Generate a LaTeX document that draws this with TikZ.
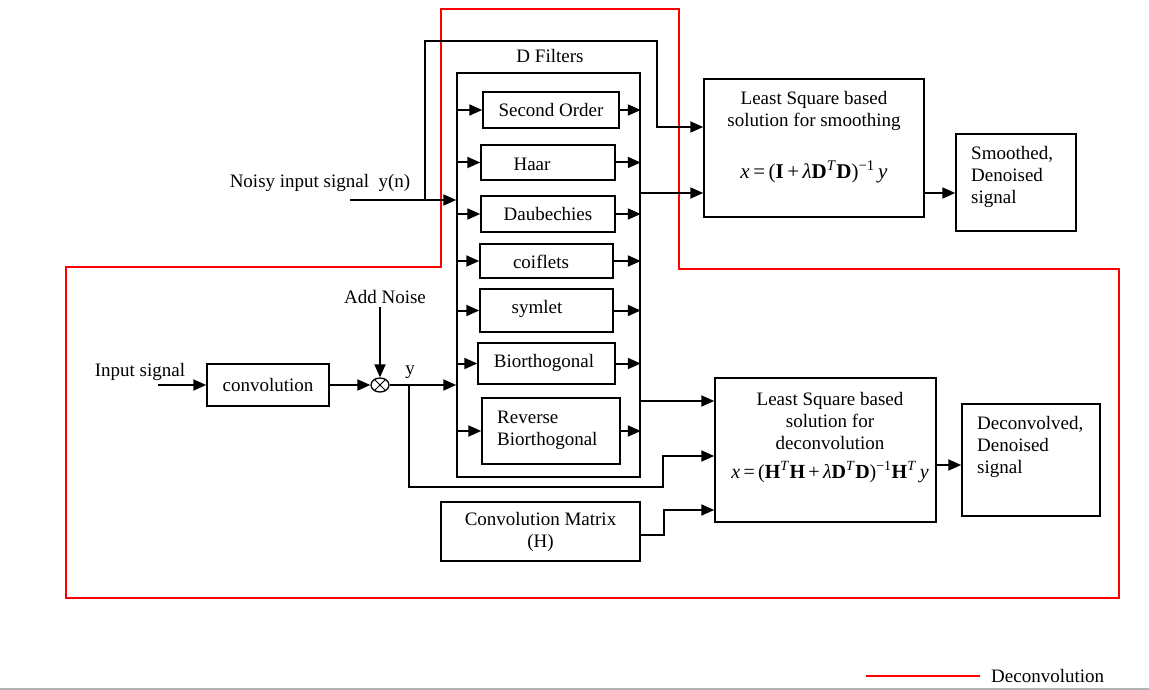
\documentclass[tikz,border=0pt]{standalone}
\usepackage{fontspec}
\setmainfont{Liberation Serif}
\usetikzlibrary{arrows.meta,shapes.geometric,calc}
\begin{document}
\begin{tikzpicture}[x=1pt,y=-1pt,
  every node/.style={font=\fontsize{19}{22}\selectfont, inner sep=0pt},
  box/.style={draw, line width=1.5pt, rectangle},
  arr/.style={line width=2pt, -{Triangle[length=13pt,width=11pt]}},
  redline/.style={draw=red, line width=1.3pt},
  txt/.style={align=center},
  eq/.style={font=\fontsize{20}{24}\selectfont}]
\useasboundingbox (0,0) rectangle (1149,690);

% red deconvolution path
\draw[redline] (441,9) -- (679,9) -- (679,269) -- (1119,269) -- (1119,598)
  -- (66,598) -- (66,267) -- (441,267) -- cycle;

% D filters container
\node[box, minimum width=183pt, minimum height=404pt] (dfil) at (548.5,275) {};
\node (dtitle) at (550,56) {D Filters};

% filter boxes
\node[box, minimum width=136pt, minimum height=36pt] (so) at (551,110) {Second Order};
\node[box, minimum width=134pt, minimum height=35pt] (haar) at (548,162.5) {};
\node (haart) at (532,164) {Haar};
\node[box, minimum width=134pt, minimum height=36pt] (daub) at (548,214) {Daubechies};
\node[box, minimum width=133pt, minimum height=34pt] (coif) at (546.5,261) {};
\node (coift) at (541,262) {coiflets};
\node[box, minimum width=133pt, minimum height=43pt] (sym) at (546.5,310.5) {};
\node (symt) at (537,309) {symlet};
\node[box, minimum width=137pt, minimum height=41pt] (bior) at (546.5,363.5) {};
\node (biort) at (544,363) {Biorthogonal};
\node[box, minimum width=138pt, minimum height=66pt] (rbior) at (551,431) {};
\node[align=left, anchor=west] (rbiort) at (497,430) {Reverse\\Biorthogonal};

% filter inputs and outputs
\foreach \f in {so,haar,daub,coif,sym,bior,rbior}{
  \draw[arr] (\f.west -| dfil.west) -- (\f.west);
  \draw[arr] (\f.east) -- (\f.east -| dfil.east);
}

% smoothing block
\node[box, minimum width=220pt, minimum height=138pt] (smooth) at (814,148) {};
\node[txt] (smootht) at (814,110.5) {Least Square based\\solution for smoothing};
\node[eq, font=\fontsize{21}{24}\selectfont] (smoothe) at (814,172) {\textit{x}\,=\,(\textbf{I}\,+\,\textit{λ}\textbf{D}\textsuperscript{\textit{T}}\textbf{D})\textsuperscript{−1}\,\textit{y}};
\node[box, minimum width=120pt, minimum height=97pt] (sout) at (1016,182.5) {};
\node[align=left, anchor=west] (soutt) at (971,177) {Smoothed,\\Denoised\\signal};

% deconvolution block
\node[box, minimum width=221pt, minimum height=144pt] (deconv) at (825.5,450) {};
\node[txt] (deconvt) at (830,421) {Least Square based\\solution for\\deconvolution};
\node[eq] (deconve) at (830,472) {\textit{x}\,=\,(\textbf{H}\textsuperscript{\textit{T}}\textbf{H}\,+\,\textit{λ}\textbf{D}\textsuperscript{\textit{T}}\textbf{D})\textsuperscript{−1}\textbf{H}\textsuperscript{\textit{T}}\,\textit{y}};
\node[box, minimum width=138pt, minimum height=112pt] (dout) at (1031,460) {};
\node[align=left, anchor=west] (doutt) at (977,447) {Deconvolved,\\Denoised\\signal};

% convolution matrix
\node[box, minimum width=199pt, minimum height=59pt, align=center] (cmat) at (540.5,531.5) {Convolution Matrix\\(H)};

% input chain
\node (inlab) at (140,372) {Input signal};
\coordinate (inp) at (158,385);
\node[box, minimum width=122pt, minimum height=42pt] (conv) at (268,385) {convolution};
\node[draw, ellipse, line width=1.3pt, minimum width=18pt, minimum height=14pt] (mix) at (380,385) {};
\draw[line width=1pt] (mix.45) -- (mix.225) (mix.135) -- (mix.315);
\node (addn) at (385,297) {Add Noise};
\node (ylab) at (410,372) {y};
\draw[arr] (inp) -- (conv.west);
\draw[arr] (conv.east) -- (mix.west);
\draw[arr] (addn.south -| mix.north) ++(0,3) -- (mix.north);
\draw[arr] (mix.east) -- (mix.east -| dfil.west);

% noisy input
\node (nlab) at (320,183) {Noisy input signal\ \ y(n)};
\coordinate (nin) at (350,200);
\coordinate (jb) at (425,200);
\draw[arr] (nin) -- (nin -| dfil.west);
\coordinate (s1) at ([yshift=21pt]smooth.west);
\coordinate (s2) at ([yshift=-45pt]smooth.west);
\draw[arr] (jb) |- (657,41) |- (s1);
\draw[arr] (s2 -| dfil.east) -- (s2);
\draw[arr] (s2 -| smooth.east) -- (s2 -| sout.west);

% deconvolution inputs
\coordinate (d1) at ([yshift=49pt]deconv.west);
\coordinate (d2) at ([yshift=-6pt]deconv.west);
\coordinate (d3) at ([yshift=-60pt]deconv.west);
\coordinate (d4) at ([yshift=-15pt]deconv.east);
\coordinate (yb) at (409,385);
\draw[arr] (d1 -| dfil.east) -- (d1);
\draw[arr] (yb) |- (663,487) |- (d2);
\draw[arr] ([yshift=-3pt]cmat.east) -- ++(23,0) |- (d3);
\draw[arr] (d4) -- (d4 -| dout.west);

% legend
\coordinate (lg1) at (866,676);
\coordinate (lg2) at (980,676);
\draw[redline] (lg1) -- (lg2);
\node[anchor=west] (lgt) at (991,676) {Deconvolution};
\draw[line width=2pt, draw=black!30] (0,688.5) -- (1149,688.5);
\end{tikzpicture}
\end{document}
